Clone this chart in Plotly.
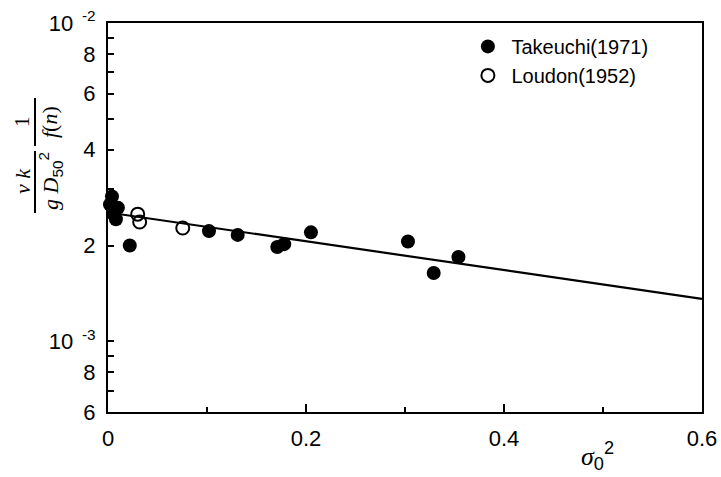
import plotly.graph_objects as go

# Takeuchi (1971) measurements
takeuchi_x = [0.004, 0.002, 0.010, 0.005, 0.008, 0.022, 0.102, 0.131, 0.171, 0.178,
              0.205, 0.303, 0.329, 0.354]
takeuchi_y = [2.85e-3, 2.69e-3, 2.63e-3, 2.52e-3, 2.42e-3, 2.0e-3, 2.22e-3, 2.16e-3,
              1.98e-3, 2.02e-3, 2.20e-3, 2.06e-3, 1.64e-3, 1.84e-3]

# Loudon (1952) measurements
loudon_x = [0.030, 0.032, 0.0755]
loudon_y = [2.51e-3, 2.37e-3, 2.27e-3]

# Fitted trend line
fit_x = [0.0, 0.6]
fit_y = [2.54e-3, 1.36e-3]

# Log axis ticks: labelled values plus unlabelled minor ticks
y_tickvals = [6e-4, 8e-4, 1e-3, 2e-3, 4e-3, 6e-3, 8e-3, 1e-2]
y_ticktext = ["6", "8", "10<sup>&nbsp;&nbsp;-3</sup>", "2", "4", "6", "8",
              "10<sup>&nbsp;&nbsp;-2</sup>"]
y_minorvals = [7e-4, 9e-4, 3e-3, 5e-3, 7e-3, 9e-3]
x_tickvals = [0, 0.2, 0.4, 0.6]
x_ticktext = ["0", "0.2", "0.4", "0.6"]
x_minorvals = [0.1, 0.3, 0.5]

SANS = "Liberation Sans, Arial, sans-serif"
SERIF = "Liberation Serif, Times New Roman, serif"

ML, MR, MT, MB = 108, 19, 23, 65
W, H = 721.0, 477.0


def paper_x(x):
    return (x - ML) / (W - ML - MR)


def paper_y(y):
    return (H - MB - y) / (H - MT - MB)


fig = go.Figure()

fig.add_trace(go.Scatter(
    x=fit_x, y=fit_y, mode="lines",
    line=dict(color="black", width=2.2),
    showlegend=False, hoverinfo="skip",
))
fig.add_trace(go.Scatter(
    x=takeuchi_x, y=takeuchi_y, mode="markers", name="Takeuchi(1971)",
    marker=dict(symbol="circle", size=14, color="black"), cliponaxis=False,
))
fig.add_trace(go.Scatter(
    x=loudon_x, y=loudon_y, mode="markers", name="Loudon(1952)",
    marker=dict(symbol="circle-open", size=13, color="black", line=dict(width=2)),
    cliponaxis=False,
))

fig.update_layout(
    width=721, height=477,
    margin=dict(l=ML, r=MR, t=MT, b=MB, autoexpand=False),
    paper_bgcolor="white", plot_bgcolor="white",
    font=dict(family=SANS, size=21, color="black"),
    showlegend=True,
    legend=dict(
        x=0.6, y=0.99, xanchor="left", yanchor="top",
        bgcolor="rgba(0,0,0,0)", borderwidth=0,
        font=dict(family=SANS, size=20, color="black"),
        itemwidth=37, tracegroupgap=0,
    ),
    xaxis=dict(
        range=[0, 0.6], tickmode="array", tickvals=x_tickvals, ticktext=x_ticktext,
        ticks="inside", ticklen=8, tickwidth=1.5, tickcolor="black",
        minor=dict(tickvals=x_minorvals, ticks="inside", ticklen=5,
                   tickwidth=1.5, tickcolor="black", showgrid=False),
        showline=True, linecolor="black", linewidth=2, mirror=True,
        showgrid=False, zeroline=False, automargin=False,
        ticklabelstandoff=6,
        tickfont=dict(family=SANS, size=22),
    ),
    yaxis=dict(
        type="log", range=[-3.2218, -2], tickmode="array",
        tickvals=y_tickvals, ticktext=y_ticktext,
        ticks="inside", ticklen=6, tickwidth=1.5, tickcolor="black",
        minor=dict(tickvals=y_minorvals, ticks="inside", ticklen=6,
                   tickwidth=1.5, tickcolor="black", showgrid=False),
        showline=True, linecolor="black", linewidth=2, mirror=True,
        showgrid=False, zeroline=False, automargin=False,
        ticklabelstandoff=6,
        tickfont=dict(family=SANS, size=22),
    ),
)

# y-axis title: (ν k / g D50²) · (1 / f(n)), rotated
title_parts = [
    (22, 181, "<i>ν k</i>", 22),
    (50, 181, "<i>g D</i><span style='font-family:Liberation Sans'><sub>50</sub><sup>2</sup></span>", 22),
    (22, 122, "1", 21),
    (50, 122, "<i>f</i>(<i>n</i>)", 22),
]
for x, y, txt, sz in title_parts:
    fig.add_annotation(
        xref="paper", yref="paper", x=paper_x(x), y=paper_y(y),
        text=txt, showarrow=False, textangle=-90,
        font=dict(family=SERIF, size=sz, color="black"),
        xanchor="center", yanchor="middle",
    )

# fraction bars
for y0, y1 in [(151, 213), (98, 146)]:
    fig.add_shape(
        type="line", xref="paper", yref="paper",
        x0=paper_x(35), x1=paper_x(35), y0=paper_y(y0), y1=paper_y(y1),
        line=dict(color="black", width=2),
    )

# x-axis title σ0²
fig.add_annotation(
    xref="paper", yref="paper", x=paper_x(597), y=paper_y(456),
    text="<i>σ</i><span style='font-family:Liberation Sans'><sub>0</sub><sup>2</sup></span>",
    showarrow=False, xanchor="center", yanchor="middle",
    font=dict(family=SERIF, size=26, color="black"),
)

fig.write_html("out.html")
